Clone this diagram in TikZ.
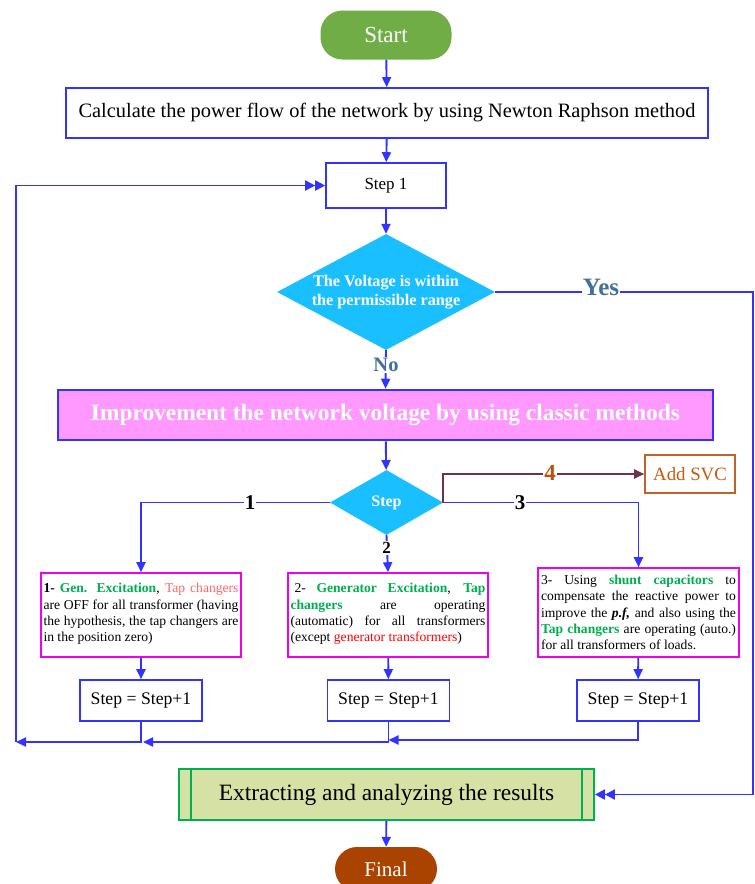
\documentclass[tikz,border=0pt]{standalone}
\usepackage{fontspec}
\setmainfont{Liberation Serif}
\usetikzlibrary{arrows.meta,shapes.geometric,calc}
\definecolor{lblue}{RGB}{51,51,255}
\definecolor{sgreen}{RGB}{112,173,71}
\definecolor{dcyan}{RGB}{26,191,255}
\definecolor{pinkf}{RGB}{255,153,255}
\definecolor{steel}{RGB}{65,113,156}
\definecolor{magb}{RGB}{240,0,240}
\definecolor{tgreen}{RGB}{0,176,80}
\definecolor{salmon}{RGB}{255,102,102}
\definecolor{fbrown}{RGB}{170,66,0}
\definecolor{extf}{RGB}{213,225,165}
\definecolor{svcb}{RGB}{192,98,42}
\definecolor{svct}{RGB}{197,90,17}
\definecolor{maroonl}{RGB}{112,48,80}
\definecolor{fourc}{RGB}{184,82,14}
\newcommand{\fs}[2]{\fontsize{#1}{#2}\selectfont}
\newcommand{\nohy}{\hyphenpenalty=10000\exhyphenpenalty=10000\tolerance=9999\emergencystretch=10pt}
\begin{document}
\begin{tikzpicture}[x=1pt,y=-1pt,
  arr/.style={draw=lblue,line width=1.9pt,-{Triangle[length=10pt,width=9pt]}},
  arrtwo/.style={draw=lblue,line width=1.9pt,-{Triangle[length=10pt,width=10pt]Triangle[length=10pt,width=10pt]}},
  bbox/.style={draw=lblue,line width=1.6pt,fill=white,inner sep=0pt},
  pill/.style={rounded corners=22pt,inner sep=0pt,text=white},
  diam/.style={diamond,fill=dcyan,inner sep=0pt},
  mbox/.style={draw=magb,line width=1.6pt,fill=white,inner sep=0pt},
  btxt/.style={text width=195pt,align=justify,inner sep=0pt,font=\fs{13.6}{16.4}\nohy},
  lbl/.style={fill=white,inner sep=1pt,font=\bfseries}
]
\useasboundingbox (0,0) rectangle (755,884);
\fill[white] (0,0) rectangle (755,884);

% nodes
\node[pill,fill=sgreen,minimum width=131pt,minimum height=49pt,font=\fs{23}{26}] (start) at (386,35) {Start};
\node[bbox,minimum width=642pt,minimum height=50pt,font=\fs{20.4}{24}] (calc) at (387,113) {Calculate the power flow of the network by using Newton Raphson method};
\node[bbox,minimum width=120pt,minimum height=45pt,font=\fs{17}{20}] (step1) at (386,185.5) {Step 1};
\node[diam,minimum width=218pt,minimum height=116pt] (d1) at (386,292) {};
\node[text=white,align=center,font=\bfseries\fs{16.2}{19.5}] (d1t) at (d1) {The Voltage is within\\the permissible range};
\node[draw=lblue,line width=2.6pt,fill=pinkf,minimum width=655pt,minimum height=50pt,inner sep=0pt,text=white,font=\bfseries\fs{23.4}{26}] (imp) at (385.5,415) {Improvement the network voltage by using classic methods};
\node[diam,minimum width=113pt,minimum height=65pt] (d2) at (386.5,502.5) {};
\node[text=white,font=\bfseries\fs{16}{18}] (d2t) at (d2) {Step};
\node[draw=svcb,line width=1.6pt,fill=white,minimum width=90pt,minimum height=38pt,inner sep=0pt,text=svct,font=\fs{18.8}{22}] (svc) at (690,474) {Add SVC};

\node[mbox,minimum width=200pt,minimum height=84pt] (b1) at (141,615) {};
\node[btxt] (b1t) at ([yshift=1pt]b1.center) {\textbf{1- \textcolor{tgreen}{Gen. Excitation}}, \textcolor{salmon}{Tap changers}\linebreak are OFF for all transformer (having\linebreak the hypothesis, the tap changers are\linebreak in the position zero)};
\node[mbox,minimum width=200pt,minimum height=84pt] (b2) at (388,615) {};
\node[btxt] (b2t) at ([yshift=1pt]b2.center) {\hspace*{4pt}2- \textbf{\textcolor{tgreen}{Generator Excitation}}, \textbf{\textcolor{tgreen}{Tap}}\linebreak \textbf{\textcolor{tgreen}{changers}} are operating\linebreak (automatic) for all transformers\linebreak (except \textcolor{red}{generator transformers})};
\node[mbox,minimum width=201pt,minimum height=89pt] (b3) at (638.5,612.5) {};
\node[btxt] (b3t) at (b3) {3- Using \textbf{\textcolor{tgreen}{shunt capacitors}} to\linebreak compensate the reactive power to\linebreak improve the \textbf{\textit{p.f,}} and also using the\linebreak \textbf{\textcolor{tgreen}{Tap changers}} are operating (auto.)\linebreak for all transformers of loads.};

\node[bbox,minimum width=122pt,minimum height=41pt,font=\fs{17.7}{20}] (s1) at (141,700.5) {Step = Step+1};
\node[bbox,minimum width=122pt,minimum height=41pt,font=\fs{17.7}{20}] (s2) at (388.5,700.5) {Step = Step+1};
\node[bbox,minimum width=122pt,minimum height=41pt,font=\fs{17.7}{20}] (s3) at (638,700.5) {Step = Step+1};

\node[draw=tgreen,line width=1.8pt,fill=extf,minimum width=415pt,minimum height=51pt,inner sep=0pt,font=\fs{23.4}{26}] (ext) at (386.5,794.5) {Extracting and analyzing the results};
\draw[tgreen,line width=1.8pt] ([xshift=13pt]ext.north west) -- ([xshift=13pt]ext.south west);
\draw[tgreen,line width=1.8pt] ([xshift=-13pt]ext.north east) -- ([xshift=-13pt]ext.south east);
\node[pill,fill=fbrown,minimum width=102pt,minimum height=44pt,font=\fs{21}{24}] (fin) at (386,869) {Final};

% coordinates
\coordinate (yr) at (753,292);
\coordinate (j2) at (388.5,740);
\coordinate (j1) at (143,742);
\coordinate (j0) at (16,742);

% connectors
\draw[arr] (start) -- (calc);
\draw[arr] (calc) -- (step1);
\draw[arr] (step1) -- (d1);
\draw[arr] (d1.south) -- (imp.north);
\draw[arr] (imp) -- (d2);
\draw[arr] (d2.west) -| (b1.north);
\draw[arr] (d2.south) -- (b2.north);
\draw[arr] (d2.east) -| (b3.north);
\draw[draw=maroonl,line width=1.9pt,-{Triangle[length=10pt,width=9pt]}] (d2.east) |- (svc.west);
\draw[arr] (b1) -- (s1);
\draw[arr] (b2) -- (s2);
\draw[arr] (b3) -- (s3);
\draw[arr] (s3.south) |- (j2);
\draw[arr] (s2.south) |- (j1);
\draw[arr] (s1.south) |- (j0);
\draw[arrtwo] (j0) |- (step1.west);
\draw[arrtwo] (d1.east) -- (yr) |- (ext.east);
\draw[arr] (ext) -- (fin);

% labels
\node[lbl,text=steel,font=\bfseries\fs{25}{27}] (yes) at (601,287) {Yes};
\node[lbl,text=steel,font=\bfseries\fs{20.5}{22}] (no) at (386,365) {No};
\node[lbl,font=\bfseries\fs{21}{23}] (l1) at (250,503) {1};
\node[lbl,font=\bfseries\fs{17}{19}] (l2) at (386.5,548) {2};
\node[lbl,font=\bfseries\fs{21}{23}] (l3) at (520,503) {3};
\node[lbl,text=fourc,font=\bfseries\fs{23}{25}] (l4) at (550,473) {4};
\end{tikzpicture}
\end{document}
